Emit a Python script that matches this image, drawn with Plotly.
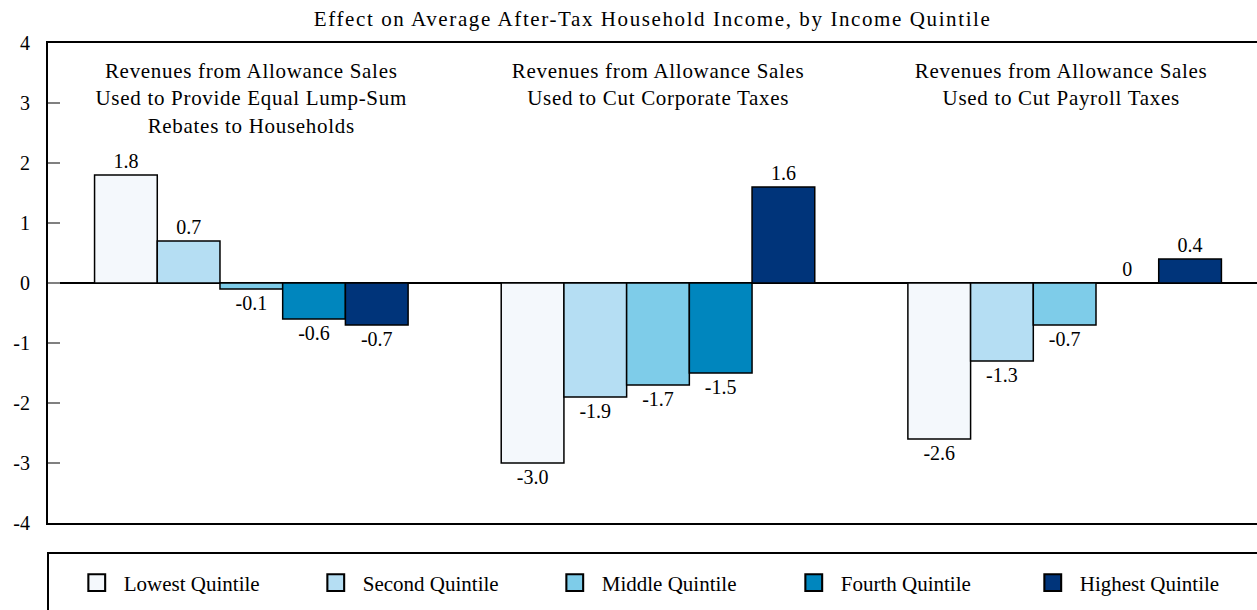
import plotly.graph_objects as go

# ---- data ----
groups = [0, 1, 2]
group_titles = [
    "Revenues from Allowance Sales<br>Used to Provide Equal Lump-Sum<br>Rebates to Households",
    "Revenues from Allowance Sales<br>Used to Cut Corporate Taxes",
    "Revenues from Allowance Sales<br>Used to Cut Payroll Taxes",
]
quintiles = ["Lowest Quintile", "Second Quintile", "Middle Quintile", "Fourth Quintile", "Highest Quintile"]
lowest = [1.8, -3.0, -2.6]
second = [0.7, -1.9, -1.3]
middle = [-0.1, -1.7, -0.7]
fourth = [-0.6, -1.5, 0.0]
highest = [-0.7, 1.6, 0.4]
lowest_lbl = ["1.8", "-3.0", "-2.6"]
second_lbl = ["0.7", "-1.9", "-1.3"]
middle_lbl = ["-0.1", "-1.7", "-0.7"]
fourth_lbl = ["-0.6", "-1.5", "0"]
highest_lbl = ["-0.7", "1.6", "0.4"]
colors = ["#F4F8FC", "#B5DEF3", "#7ECCE9", "#0086BE", "#00347A"]
ytick_vals = [-4, -3, -2, -1, 0, 1, 2, 3, 4]
ytick_text = ["-4", "-3", "-2", "-1", "0", "1", "2", "3", "4"]
title = "Effect on Average After-Tax Household Income, by Income Quintile"

FONT = "Liberation Serif"
series = [lowest, second, middle, fourth, highest]
labels = [lowest_lbl, second_lbl, middle_lbl, fourth_lbl, highest_lbl]
legend_widths = [180, 180, 180, 180, 145]

fig = go.Figure()
for name, vals, lbl, col, lw in zip(quintiles, series, labels, colors, legend_widths):
    fig.add_trace(go.Bar(
        x=groups, y=vals, name=name, text=lbl, textposition="outside",
        textfont=dict(family=FONT, size=20, color="black"),
        constraintext="none", cliponaxis=False, legendwidth=lw,
        marker=dict(color=col, line=dict(color="black", width=1.5)),
    ))

annotations = [dict(text=title, x=0.5004, xref="paper", y=1.05, yref="paper",
                    showarrow=False, yanchor="middle",
                    font=dict(family=FONT, size=21, color="black"))]
for g, t in zip(groups, group_titles):
    annotations.append(dict(text=t, x=g, xref="x", y=0.97, yref="paper",
                            yanchor="top", showarrow=False,
                            xshift=(-4 if g == 2 else 0),
                            font=dict(family=FONT, size=21, color="black")))

fig.update_layout(
    width=1257, height=610,
    margin=dict(l=48, r=0, t=43, b=87),
    paper_bgcolor="white", plot_bgcolor="white",
    barmode="group", bargap=0.229, bargroupgap=0,
    font=dict(family=FONT, size=20, color="black"),
    annotations=annotations,
    showlegend=True,
    legend=dict(orientation="h", x=0.018, xanchor="left", y=-0.125, yanchor="middle",
                font=dict(family=FONT, size=21, color="black"),
                itemwidth=44, entrywidthmode="pixels",
                bgcolor="rgba(0,0,0,0)", traceorder="normal"),
    shapes=[dict(type="rect", xref="paper", yref="paper", x0=0, x1=1.05,
                 y0=-0.0625, y1=-0.25, line=dict(color="black", width=2),
                 fillcolor="rgba(0,0,0,0)", layer="below")],
)
fig.update_xaxes(range=[-0.5, 2.473], showline=True, mirror=True, linecolor="black",
                 linewidth=2, showticklabels=False, ticks="", showgrid=False,
                 zeroline=False, fixedrange=True)
fig.update_yaxes(range=[-4, 4], tickvals=ytick_vals, ticktext=ytick_text,
                 ticks="inside", ticklen=12, tickcolor="#808080", tickwidth=1.5,
                 showline=True, linecolor="black", linewidth=2, showgrid=False,
                 zeroline=True, zerolinecolor="black", zerolinewidth=1.5,
                 ticklabelstandoff=12,
                 tickfont=dict(family=FONT, size=20, color="black"))

spacing_js = """
var gd = document.getElementById('{plot_id}');
function restyleText(){
  gd.querySelectorAll('g.annotation').forEach(function(g){
    var idx = g.getAttribute('data-index');
    var t = g.querySelector('text.annotation-text');
    if (t) { t.style.letterSpacing = (idx === '0') ? '1.6px' : '0.7px'; }
  });
  gd.querySelectorAll('g.legendpoints path').forEach(function(p){
    var tr = p.getAttribute('data-base-tr');
    if (tr === null) { tr = p.getAttribute('transform') || ''; p.setAttribute('data-base-tr', tr); }
    p.setAttribute('transform', tr + ' scale(1.4)');
  });
}
restyleText();
if (gd.on) { gd.on('plotly_afterplot', restyleText); }
setTimeout(restyleText, 30);
"""

fig.write_html("out.html", post_script=[spacing_js])
